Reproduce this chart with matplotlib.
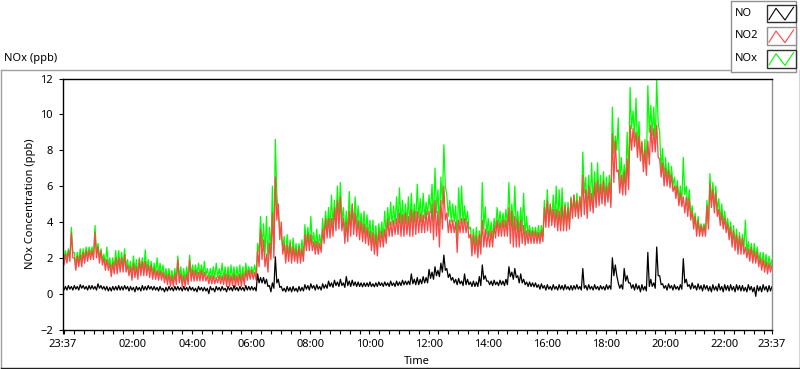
import numpy as np
import matplotlib
matplotlib.use("Agg")
import matplotlib.pyplot as plt
from matplotlib.patches import Rectangle

plt.rcParams['font.family'] = ['Noto Sans', 'DejaVu Sans']
plt.rcParams['font.size'] = 8

# upper / lower reading in each 6 min slot from 23:37 (ppb), one row per hour
no2_hi = [
    2.3, 2.2, 2.4, 3.4, 2.0, 2.1, 2.2, 2.3, 2.4, 2.4,
    2.4, 3.4, 2.6, 2.4, 2.0, 1.9, 1.7, 1.7, 2.0, 2.0,
    2.0, 2.2, 1.6, 1.5, 1.7, 1.5, 1.9, 1.8, 1.8, 1.6,
    1.6, 1.4, 1.3, 1.3, 1.2, 1.1, 1.1, 1.0, 1.1, 1.9,
    1.1, 1.0, 1.1, 1.9, 1.3, 1.3, 1.2, 1.3, 1.2, 1.0,
    1.0, 1.0, 0.9, 1.0, 1.0, 1.1, 1.1, 1.0, 1.1, 1.0,
    1.1, 1.1, 1.3, 1.3, 1.3, 1.2, 2.4, 3.6, 3.0, 2.2,
    2.8, 4.5, 6.5, 5.0, 4.0, 2.8, 2.7, 2.8, 2.6, 2.5,
    2.6, 2.5, 3.3, 3.35, 3.3, 2.9, 2.9, 2.8, 3.6, 4.2,
    4.2, 4.2, 4.8, 5.2, 5.4, 4.2, 4.0, 4.6, 5.0, 4.5,
    4.1, 4.0, 3.9, 3.7, 3.5, 3.4, 3.3, 3.5, 3.5, 3.6,
    4.2, 4.0, 4.1, 4.2, 4.5, 4.4, 4.5, 4.3, 4.7, 4.6,
    4.6, 4.5, 4.4, 4.6, 4.6, 5.0, 5.2, 4.6, 5.2, 6.0,
    4.5, 4.1, 4.1, 4.0, 4.1, 4.2, 4.2, 4.0, 3.3, 3.3,
    3.2, 3.3, 4.1, 3.6, 3.5, 3.5, 3.8, 4.1, 4.0, 4.1,
    4.1, 4.8, 4.6, 4.3, 4.1, 4.1, 3.8, 3.5, 3.5, 3.5,
    3.5, 3.4, 3.5, 4.8, 5.2, 5.0, 4.7, 4.7, 4.6, 4.9,
    4.9, 4.8, 5.3, 5.5, 5.2, 5.4, 6.6, 5.8, 6.0, 5.6,
    6.2, 6.3, 6.1, 6.3, 6.0, 6.2, 8.9, 8.5, 6.9, 6.6,
    6.8, 7.5, 9.4, 9.2, 9.0, 8.8, 8.5, 8.0, 8.5, 9.4,
    9.2, 9.4, 7.5, 7.3, 7.0, 6.9, 6.6, 6.0, 6.0, 5.6,
    5.4, 5.4, 5.3, 4.6, 4.3, 4.1, 3.8, 3.8, 4.9, 6.1,
    5.8, 5.6, 4.7, 4.5, 4.2, 3.9, 3.7, 3.5, 3.3, 3.2,
    3.1, 2.6, 2.5, 2.6, 2.4, 2.3, 2.0, 1.9, 1.8, 1.7,
    1.6,
]
no2_lo = [
    1.6, 1.7, 1.8, 2.0, 1.3, 1.5, 1.5, 1.7, 1.8, 1.9,
    1.9, 2.0, 1.7, 1.6, 1.3, 1.3, 0.95, 1.1, 1.1, 1.2,
    1.2, 1.2, 1.0, 0.75, 0.9, 0.8, 1.0, 1.0, 1.0, 0.9,
    0.8, 0.8, 0.75, 0.75, 0.6, 0.5, 0.4, 0.4, 0.5, 0.6,
    0.4, 0.4, 0.5, 0.7, 0.7, 0.7, 0.7, 0.7, 0.7, 0.55,
    0.55, 0.55, 0.6, 0.55, 0.5, 0.4, 0.4, 0.45, 0.4, 0.45,
    0.4, 0.45, 0.75, 0.8, 0.8, 0.75, 1.5, 1.9, 1.5, 1.2,
    1.9, 2.0, 4.1, 3.0, 2.2, 1.7, 1.8, 1.7, 1.8, 1.7,
    1.7, 1.8, 2.4, 2.4, 2.4, 2.2, 2.2, 2.3, 2.8, 3.1,
    3.1, 3.2, 3.5, 3.6, 3.5, 2.8, 2.9, 3.2, 3.3, 3.2,
    3.0, 2.9, 2.8, 2.7, 2.4, 2.2, 2.1, 2.6, 2.6, 2.8,
    3.2, 3.2, 3.3, 3.3, 3.2, 3.2, 3.3, 3.2, 3.2, 3.3,
    3.4, 3.4, 3.4, 3.5, 3.4, 3.0, 3.2, 2.6, 3.6, 4.1,
    3.4, 3.4, 3.4, 2.3, 3.4, 3.4, 3.4, 3.1, 2.1, 2.2,
    2.0, 2.2, 2.6, 2.6, 2.6, 2.6, 3.1, 3.2, 3.2, 3.2,
    3.2, 2.8, 2.6, 2.6, 2.6, 2.8, 2.7, 2.8, 2.8, 2.8,
    2.8, 2.8, 2.9, 3.7, 3.7, 3.8, 3.7, 3.5, 3.5, 3.5,
    3.5, 3.6, 4.2, 4.3, 4.2, 4.3, 4.4, 4.2, 4.6, 4.5,
    4.8, 4.9, 5.0, 4.9, 5.1, 4.8, 6.2, 6.8, 5.6, 5.5,
    5.5, 5.8, 8.0, 8.2, 7.6, 7.4, 6.8, 6.6, 7.2, 7.9,
    7.9, 7.6, 6.5, 6.0, 6.0, 5.9, 5.7, 5.3, 4.9, 4.85,
    4.5, 4.3, 4.1, 3.6, 3.2, 3.2, 3.2, 3.2, 3.6, 4.8,
    4.5, 4.3, 3.8, 3.6, 3.4, 3.0, 2.6, 2.4, 2.2, 2.2,
    2.2, 2.0, 1.8, 1.7, 1.7, 1.5, 1.3, 1.2, 1.1, 1.2,
    1.2,
]

nox_hi = [
    2.5, 2.4, 2.5, 3.7, 2.3, 2.3, 2.5, 2.5, 2.6, 2.6,
    2.6, 3.8, 2.8, 2.5, 2.2, 2.6, 2.0, 2.0, 2.4, 2.4,
    2.3, 2.5, 1.9, 1.8, 2.1, 1.9, 2.0, 2.0, 2.45, 1.9,
    1.8, 1.7, 2.0, 1.7, 1.6, 1.4, 1.4, 1.3, 1.4, 2.1,
    1.5, 1.4, 1.5, 2.15, 1.6, 1.6, 1.7, 1.6, 1.8, 1.4,
    1.4, 1.5, 1.7, 1.4, 1.7, 1.5, 1.5, 1.6, 1.5, 1.5,
    1.6, 1.5, 1.7, 1.5, 1.5, 1.6, 2.8, 4.3, 3.9, 4.3,
    3.7, 6.0, 8.6, 4.5, 3.3, 3.2, 3.3, 3.0, 3.1, 2.8,
    2.8, 3.0, 3.85, 3.7, 4.3, 3.4, 3.6, 3.3, 4.2, 4.6,
    4.8, 5.5, 5.2, 6.0, 6.2, 4.8, 4.6, 5.7, 5.0, 5.4,
    4.9, 4.5, 4.6, 4.4, 4.1, 4.1, 3.8, 3.9, 4.0, 4.6,
    4.8, 5.1, 4.9, 5.4, 5.9, 5.2, 5.0, 5.4, 5.6, 5.0,
    6.1, 5.3, 5.6, 5.1, 5.5, 6.1, 7.0, 5.8, 6.5, 8.3,
    5.5, 5.2, 5.0, 4.9, 5.9, 6.0, 4.9, 4.6, 3.7, 3.6,
    3.7, 3.5, 6.2, 4.85, 4.2, 4.0, 4.2, 4.8, 4.6, 4.5,
    4.7, 6.2, 5.0, 6.0, 4.6, 4.8, 5.6, 4.3, 3.8, 3.7,
    3.7, 3.8, 3.8, 5.2, 5.8, 5.0, 5.5, 6.0, 5.8, 5.9,
    5.1, 5.1, 5.4, 5.5, 5.6, 5.4, 7.9, 6.5, 6.6, 7.3,
    6.8, 7.3, 6.6, 6.8, 6.5, 6.6, 10.4, 8.8, 9.8, 7.6,
    7.2, 9.0, 11.5, 10.2, 10.9, 9.6, 8.4, 8.6, 11.6, 10.5,
    10.4, 11.9, 9.0, 8.1, 7.6, 7.3, 7.1, 6.5, 6.3, 6.0,
    7.6, 6.0, 5.8, 4.9, 4.5, 4.3, 3.9, 3.9, 5.2, 6.7,
    6.2, 6.0, 5.3, 5.0, 4.6, 4.2, 4.0, 3.8, 3.6, 3.4,
    3.3, 4.1, 2.9, 2.8, 2.8, 2.6, 2.3, 2.3, 2.2, 2.1,
    1.9,
]
nox_lo = [
    1.9, 2.0, 2.1, 2.3, 1.6, 1.8, 1.8, 2.0, 2.1, 2.2,
    2.2, 2.3, 2.0, 1.9, 1.6, 1.6, 1.25, 1.4, 1.4, 1.5,
    1.5, 1.5, 1.3, 1.05, 1.2, 1.1, 1.3, 1.3, 1.3, 1.2,
    1.1, 1.1, 1.05, 1.05, 0.9, 0.8, 0.7, 0.7, 0.8, 0.9,
    0.7, 0.7, 0.8, 1.0, 1.0, 1.0, 1.0, 1.0, 1.0, 0.85,
    0.85, 0.85, 0.9, 0.85, 0.8, 0.7, 0.7, 0.75, 0.7, 0.75,
    0.7, 0.75, 1.05, 1.1, 1.1, 1.05, 2.3, 2.6, 2.2, 1.8,
    2.3, 2.5, 5.5, 3.5, 2.5, 2.0, 2.1, 2.0, 2.1, 2.0,
    2.0, 2.1, 2.7, 2.7, 2.8, 2.5, 2.5, 2.6, 3.2, 3.5,
    3.6, 3.7, 4.0, 4.1, 4.0, 3.3, 3.4, 3.7, 3.8, 3.7,
    3.5, 3.4, 3.3, 3.2, 2.9, 2.7, 2.6, 3.1, 3.1, 3.3,
    3.8, 3.8, 3.9, 3.9, 3.8, 3.8, 3.9, 3.8, 3.9, 4.0,
    4.2, 4.0, 4.2, 4.4, 4.5, 4.0, 4.5, 3.8, 5.0, 6.0,
    4.3, 4.0, 4.0, 2.9, 3.9, 3.9, 3.9, 3.6, 2.6, 2.7,
    2.5, 2.7, 3.6, 3.3, 3.2, 3.1, 3.6, 3.7, 3.7, 3.7,
    3.8, 3.8, 3.5, 3.6, 3.3, 3.5, 3.2, 3.2, 3.2, 3.2,
    3.1, 3.1, 3.2, 4.0, 4.0, 4.1, 4.0, 3.8, 3.8, 3.8,
    3.8, 3.9, 4.5, 4.6, 4.5, 4.6, 5.6, 4.5, 4.9, 4.8,
    5.1, 5.2, 5.3, 5.2, 5.4, 5.1, 7.8, 8.0, 6.2, 6.0,
    6.2, 6.4, 9.2, 8.7, 8.0, 7.7, 7.1, 6.9, 9.0, 8.8,
    8.4, 9.5, 6.9, 6.4, 6.3, 6.2, 6.0, 5.6, 5.2, 5.1,
    5.5, 4.8, 4.4, 3.9, 3.5, 3.5, 3.5, 3.5, 3.9, 5.1,
    4.8, 4.6, 4.1, 3.9, 3.7, 3.3, 2.9, 2.7, 2.5, 2.5,
    2.5, 2.3, 2.1, 2.0, 2.0, 1.8, 1.6, 1.5, 1.4, 1.5,
    1.5,
]

no_hi = [
    0.4, 0.4, 0.45, 0.4, 0.45, 0.4, 0.5, 0.45, 0.4, 0.45,
    0.45, 0.4, 0.55, 0.45, 0.4, 0.4, 0.35, 0.4, 0.4, 0.45,
    0.4, 0.45, 0.4, 0.4, 0.35, 0.4, 0.35, 0.45, 0.4, 0.45,
    0.4, 0.4, 0.35, 0.4, 0.3, 0.35, 0.4, 0.35, 0.4, 0.4,
    0.35, 0.4, 0.35, 0.4, 0.35, 0.3, 0.4, 0.35, 0.35, 0.3,
    0.4, 0.3, 0.4, 0.35, 0.4, 0.3, 0.4, 0.35, 0.45, 0.35,
    0.4, 0.35, 0.45, 0.4, 0.4, 0.35, 1.1, 0.9, 0.9, 0.8,
    0.45, 0.6, 2.05, 0.8, 0.4, 0.3, 0.4, 0.35, 0.4, 0.3,
    0.4, 0.35, 0.5, 0.45, 0.55, 0.45, 0.5, 0.4, 0.55, 0.5,
    0.7, 0.6, 0.75, 0.65, 0.8, 0.6, 0.95, 0.7, 0.75, 0.65,
    0.65, 0.6, 0.6, 0.6, 0.65, 0.55, 0.6, 0.65, 0.6, 0.65,
    0.6, 0.7, 0.6, 0.7, 0.65, 0.75, 0.7, 0.7, 1.1, 0.8,
    0.9, 0.8, 0.95, 0.9, 1.35, 1.2, 1.5, 1.3, 1.7, 2.15,
    1.4, 1.1, 0.9, 0.8, 0.85, 0.7, 1.1, 0.8, 0.65, 0.7,
    0.65, 0.95, 1.6, 1.0, 0.7, 0.7, 0.75, 0.65, 0.75, 0.7,
    0.8, 1.5, 1.2, 1.4, 1.0, 1.1, 0.8, 0.65, 0.65, 0.6,
    0.6, 0.5, 0.55, 0.45, 0.5, 0.4, 0.5, 0.4, 0.5, 0.45,
    0.5, 0.4, 0.45, 0.45, 0.5, 0.4, 1.4, 0.45, 0.5, 0.4,
    0.5, 0.4, 0.45, 0.4, 0.5, 0.45, 2.0, 1.6, 0.6, 0.5,
    1.4, 1.0, 0.6, 0.5, 0.55, 0.45, 0.5, 0.4, 2.3, 0.8,
    0.6, 2.6, 1.0, 0.55, 0.45, 0.55, 0.45, 0.5, 0.4, 0.5,
    1.95, 0.8, 0.5, 0.6, 0.45, 0.55, 0.45, 0.5, 0.45, 0.4,
    0.5, 0.4, 0.55, 0.4, 0.5, 0.45, 0.5, 0.4, 0.5, 0.45,
    0.45, 0.35, 0.5, 0.4, 0.35, 0.45, 0.4, 0.5, 0.4, 0.45,
    0.4,
]
no_lo = [
    0.2, 0.2, 0.25, 0.2, 0.25, 0.2, 0.3, 0.25, 0.2, 0.25,
    0.25, 0.2, 0.3, 0.25, 0.2, 0.15, 0.15, 0.2, 0.2, 0.2,
    0.2, 0.25, 0.15, 0.2, 0.1, 0.2, 0.15, 0.2, 0.2, 0.25,
    0.2, 0.2, 0.15, 0.2, 0.1, 0.15, 0.2, 0.15, 0.2, 0.2,
    0.15, 0.2, 0.15, 0.2, 0.15, 0.1, 0.2, 0.15, 0.15, 0.0,
    0.2, 0.1, 0.2, 0.15, 0.2, 0.1, 0.2, 0.15, 0.2, 0.15,
    0.2, 0.15, 0.2, 0.2, 0.2, 0.15, 0.6, 0.6, 0.55, 0.4,
    0.1, 0.3, 0.6, 0.35, 0.15, 0.1, 0.15, 0.1, 0.15, 0.1,
    0.15, 0.15, 0.25, 0.2, 0.3, 0.2, 0.25, 0.2, 0.3, 0.3,
    0.4, 0.35, 0.45, 0.4, 0.45, 0.35, 0.45, 0.4, 0.45, 0.4,
    0.4, 0.38, 0.4, 0.4, 0.4, 0.38, 0.4, 0.45, 0.4, 0.45,
    0.4, 0.45, 0.4, 0.45, 0.45, 0.5, 0.5, 0.5, 0.55, 0.5,
    0.5, 0.55, 0.6, 0.6, 0.85, 0.8, 1.0, 0.95, 1.2, 1.3,
    0.9, 0.75, 0.6, 0.5, 0.55, 0.45, 0.5, 0.5, 0.4, 0.4,
    0.4, 0.45, 0.8, 0.7, 0.5, 0.45, 0.5, 0.45, 0.5, 0.45,
    0.5, 0.95, 0.8, 0.9, 0.6, 0.6, 0.5, 0.4, 0.4, 0.38,
    0.35, 0.25, 0.3, 0.2, 0.25, 0.2, 0.25, 0.2, 0.25, 0.2,
    0.25, 0.2, 0.2, 0.25, 0.25, 0.2, 0.3, 0.2, 0.25, 0.2,
    0.25, 0.2, 0.25, 0.2, 0.25, 0.25, 1.0, 1.0, 0.3, 0.25,
    0.7, 0.6, 0.3, 0.2, 0.25, 0.1, 0.2, 0.15, 0.4, 0.4,
    0.3, 1.0, 0.5, 0.3, 0.2, 0.3, 0.2, 0.25, 0.2, 0.25,
    0.6, 0.4, 0.25, 0.3, 0.2, 0.25, 0.15, 0.25, 0.15, 0.1,
    0.2, 0.15, 0.2, 0.1, 0.2, 0.15, 0.2, 0.1, 0.2, 0.15,
    0.15, 0.1, 0.2, 0.1, -0.15, 0.15, 0.1, 0.2, 0.1, 0.15,
    0.2,
]

tick_labels = ["23:37", "02:00", "04:00", "06:00", "08:00", "10:00", "12:00",
               "14:00", "16:00", "18:00", "20:00", "22:00", "23:37"]

# slot start times in hours after 23:37
hours = np.linspace(0, 24, len(no2_hi))


def minmax_trace(hi, lo):
    # upper value at slot start, lower value half a slot later
    t = np.repeat(hours, 2)
    t[1::2] += 0.05
    v = np.empty(2 * len(hi))
    v[0::2] = hi
    v[1::2] = lo
    return t, v


# hours since 23:37 for each label (last one is the next day)
start = 23 * 60 + 37
tick_pos = []
for lab in tick_labels:
    h, m = lab.split(":")
    tick_pos.append(((int(h) * 60 + int(m) - start) % 1440) / 60)
tick_pos[-1] = 24
minor_pos = np.arange(3 / 60, 24, 1 / 3)

W, H = 800, 369
fig = plt.figure(figsize=(W / 100, H / 100), dpi=100)

x0, x1, y0, y1 = 62.5, 772, 78.5, 329.5
ax = fig.add_axes([x0 / W, 1 - y1 / H, (x1 - x0) / W, (y1 - y0) / H])

ax.plot(*minmax_trace(nox_hi, nox_lo), color="#00ff00", lw=0.9)
ax.plot(*minmax_trace(no2_hi, no2_lo), color="#ff4545", lw=0.9)
ax.plot(*minmax_trace(no_hi, no_lo), color="black", lw=0.9)

ax.set_xlim(0, 24)
ax.set_ylim(-2, 12)
ax.set_yticks(np.arange(-2, 13, 2))
ax.set_xticks(tick_pos)
ax.set_xticklabels(tick_labels)
ax.set_xticks(minor_pos, minor=True)
ax.tick_params(axis="both", which="both", direction="out", length=3, width=0.8,
               labelsize=8, color="black")
ax.tick_params(axis="y", pad=4)
ax.tick_params(axis="x", pad=3.5)

for side in ["top", "left", "bottom"]:
    ax.spines[side].set_color("black")
    ax.spines[side].set_linewidth(1.0)
ax.spines["right"].set_color("#909090")
ax.spines["right"].set_linewidth(1.0)

ax.set_xlabel("Time", va="center")
ax.xaxis.set_label_coords(0.5, (y1 - 361.5) / (y1 - y0))
ax.set_ylabel("NOx Concentration (ppb)", va="center")
ax.yaxis.set_label_coords((31 - x0) / (x1 - x0), 0.5)

# panel frame, title and legend drawn in pixel space
ov = fig.add_axes([0, 0, 1, 1], facecolor="none")
ov.set_xlim(0, W)
ov.set_ylim(H, 0)
ov.axis("off")

ov.plot([0.5, 730], [69.5, 69.5], color="#a0a0a0", lw=1)
ov.plot([0.5, 0.5], [69.5, 367.5], color="#a0a0a0", lw=1)
ov.plot([0.5, 799.5], [367.5, 367.5], color="#202020", lw=1)
ov.plot([799.5, 799.5], [69.5, 367.5], color="#202020", lw=1)

ov.text(4, 59, "NOx (ppb)", ha="left", va="center", fontsize=8)

ov.add_patch(Rectangle((730.5, 0.5), 65.5, 71.5, facecolor="white",
                       edgecolor="#909090", lw=1))
leg_names = ["NO", "NO2", "NOx"]
leg_colors = ["black", "#ff4545", "#00ff00"]
leg_edges = ["#303030", "#909090", "#303030"]
for i, (name, col, ec) in enumerate(zip(leg_names, leg_colors, leg_edges)):
    dy = i * 22.7
    ov.text(735, 13 + dy, name, ha="left", va="center", fontsize=8)
    ov.add_patch(Rectangle((767, 4.7 + dy), 28.5, 17.5, facecolor="white",
                           edgecolor=ec, lw=1))
    ov.plot([769, 776, 785, 793.5], [19.5 + dy, 8.3 + dy, 20 + dy, 7.3 + dy],
            color=col, lw=0.8)

fig.savefig("out.png", dpi=100)
